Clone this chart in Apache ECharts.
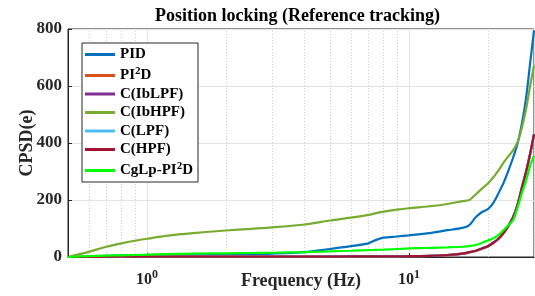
<!DOCTYPE html>
<html>
<head>
<meta charset="utf-8">
<script src="https://cdn.jsdelivr.net/npm/echarts@6/dist/echarts.min.js"></script>
<style>
  html, body { margin: 0; padding: 0; background: #fff; }
  #chart { width: 535px; height: 296px; }
</style>
</head>
<body>
<div id="chart"></div>
<script>
// frequency points (Hz)
var freq = [0.5, 0.6, 0.7, 0.8, 0.9, 1, 1.2, 1.5, 2, 2.5, 3, 4, 5, 6, 7, 7.5, 8, 9, 10, 12, 14, 16,
            17, 18, 19, 20, 21, 22, 23, 24, 25, 26, 27, 28, 29, 30];

// CPSD of the error for each controller
var pid    = [0, 2, 4, 5, 6, 7, 8, 9, 10, 11, 12, 17, 28, 38, 48, 60, 68, 72, 76, 84, 94, 102,
              112, 140, 158, 168, 190, 225, 262, 305, 350, 400, 470, 560, 680, 795];
var pi2d   = [0, 0, 1, 1, 1, 1, 1, 1, 1, 1, 1, 1, 1, 2, 2, 2, 2, 2, 3, 4, 6, 11,
              16, 21, 29, 37, 49, 64, 84, 109, 139, 184, 243, 298, 360, 428];
var ibLpf  = [0, 0, 1, 1, 1, 1, 1, 1, 1, 1, 1, 1, 2, 2, 2, 2, 2, 3, 3, 4, 7, 12,
              17, 22, 30, 39, 51, 66, 87, 112, 142, 187, 246, 301, 363, 432];
var ibHpf  = [0, 18, 36, 48, 57, 64, 75, 84, 93, 99, 104, 114, 128, 138, 148, 154, 159, 166, 171, 178, 186, 196,
              200, 220, 240, 258, 280, 305, 332, 355, 375, 405, 455, 520, 600, 672];
var lpf    = [0, 0, 1, 1, 1, 1, 1, 1, 1, 1, 1, 1, 1, 2, 2, 2, 2, 2, 3, 4, 7, 12,
              17, 22, 30, 38, 50, 65, 85, 110, 140, 185, 245, 300, 362, 430];
var hpf    = [0, 0, 1, 1, 1, 1, 1, 1, 1, 1, 1, 1, 1, 2, 2, 2, 2, 2, 3, 4, 7, 12,
              17, 22, 30, 38, 50, 65, 85, 110, 140, 185, 245, 300, 362, 430];
var cglp   = [0, 3, 5, 6, 7, 8, 10, 12, 13, 14, 15, 17, 20, 22, 24, 25, 26, 28, 30, 32, 34, 36,
              38, 42, 50, 58, 66, 78, 95, 112, 130, 175, 225, 268, 320, 355];

var seriesNames  = ['PID', 'PI^2D', 'C(IbLPF)', 'C(IbHPF)', 'C(LPF)', 'C(HPF)', 'CgLp-PI^2D'];
var seriesData   = [pid, pi2d, ibLpf, ibHpf, lpf, hpf, cglp];
var seriesColors = ['#0072BD', '#D95319', '#7E2F8E', '#77AC30', '#4DBEEE', '#A2142F', '#00FF00'];

// axis ticks
var yTicks = [0, 200, 400, 600, 800];
var minorFreq = [0.6, 0.7, 0.8, 0.9, 2, 3, 4, 5, 6, 7, 8, 9, 20, 30];

var FONT = '"Liberation Serif", "Times New Roman", serif';

function supText(name) {
    // turn "PI^2D" into rich text with a superscript
    var parts = name.split('^');
    if (parts.length == 1) return '{b|' + name + '}';
    return '{b|' + parts[0] + '}{s|' + parts[1].charAt(0) + '}{b|' + parts[1].slice(1) + '}';
}

var series = [];
for (var i = 0; i < seriesNames.length; i++) {
    var pts = [];
    for (var j = 0; j < freq.length; j++) {
        pts.push([freq[j], seriesData[i][j]]);
    }
    series.push({
        name: seriesNames[i],
        type: 'line',
        data: pts,
        showSymbol: false,
        symbol: 'none',
        smooth: 0.3,
        z: 10 + i,
        lineStyle: { color: seriesColors[i], width: 2.2 },
        itemStyle: { color: seriesColors[i] }
    });
}

// dotted minor grid lines
series[0].markLine = {
    silent: true,
    symbol: 'none',
    label: { show: false },
    lineStyle: { color: '#d0d0d0', type: [1, 2], width: 1 },
    data: minorFreq.map(function (f) { return { xAxis: f }; }),
    z: 1
};

var chart = echarts.init(document.getElementById('chart'));
chart.setOption({
    animation: false,
    backgroundColor: '#fff',
    title: {
        text: 'Position locking (Reference tracking)',
        left: 150,
        top: 2,
        textStyle: { fontFamily: FONT, fontWeight: 'bold', fontSize: 18, color: '#000' }
    },
    grid: {
        left: 68, right: 1, top: 29, bottom: 39,
        outerBoundsMode: 'none',
        containLabel: false,
        show: true, borderColor: '#262626', borderWidth: 1, backgroundColor: 'transparent'
    },
    legend: {
        orient: 'vertical',
        left: 82,
        top: 43,
        padding: [4, 5, 4, 3],
        itemGap: 3.5,
        itemWidth: 30,
        itemHeight: 3,
        icon: 'rect',
        backgroundColor: '#fff',
        borderColor: '#262626',
        borderWidth: 1,
        borderRadius: 0,
        data: seriesNames,
        formatter: supText,
        textStyle: {
            color: '#000',
            rich: {
                b: { fontFamily: FONT, fontWeight: 'bold', fontSize: 15, color: '#000', lineHeight: 16 },
                s: { fontFamily: FONT, fontWeight: 'bold', fontSize: 11, color: '#000', padding: [0, 0, 9, 0] }
            }
        }
    },
    xAxis: {
        type: 'log',
        logBase: 10,
        min: 0.5,
        max: 30,
        name: 'Frequency (Hz)',
        nameLocation: 'middle',
        nameGap: 15,
        nameMoveOverlap: false,
        nameTextStyle: { fontFamily: FONT, fontWeight: 'bold', fontSize: 18, color: '#262626' },
        axisLine: { show: true, lineStyle: { color: '#262626' } },
        axisTick: { inside: true, length: 4, lineStyle: { color: '#262626' } },
        splitLine: { show: true, lineStyle: { color: '#e3e3e3', width: 1 } },
        axisLabel: {
            margin: 12,
            showMinLabel: false,
            showMaxLabel: false,
            formatter: function (v) {
                var e = Math.log10(v);
                if (Math.abs(e - Math.round(e)) < 1e-6) return '{b|10}{s|' + Math.round(e) + '}';
                return '';
            },
            rich: {
                b: { fontFamily: FONT, fontWeight: 'bold', fontSize: 16, color: '#262626' },
                s: { fontFamily: FONT, fontWeight: 'bold', fontSize: 12, color: '#262626', padding: [0, 0, 10, 0] }
            }
        }
    },
    yAxis: {
        type: 'value',
        min: 0,
        max: 800,
        interval: 200,
        name: 'CPSD(e)',
        nameLocation: 'middle',
        nameGap: 32,
        nameMoveOverlap: false,
        nameTextStyle: { fontFamily: FONT, fontWeight: 'bold', fontSize: 18, color: '#262626' },
        axisLine: { show: true, lineStyle: { color: '#262626' } },
        axisTick: { show: true, inside: true, length: 4, lineStyle: { color: '#262626' } },
        splitLine: { show: true, lineStyle: { color: '#e3e3e3', width: 1 } },
        axisLabel: {
            margin: 6,
            fontFamily: FONT, fontWeight: 'bold', fontSize: 17, color: '#262626',
            formatter: function (v) { return yTicks.indexOf(v) >= 0 ? String(v) : ''; }
        }
    },
    series: series
});
</script>
</body>
</html>
